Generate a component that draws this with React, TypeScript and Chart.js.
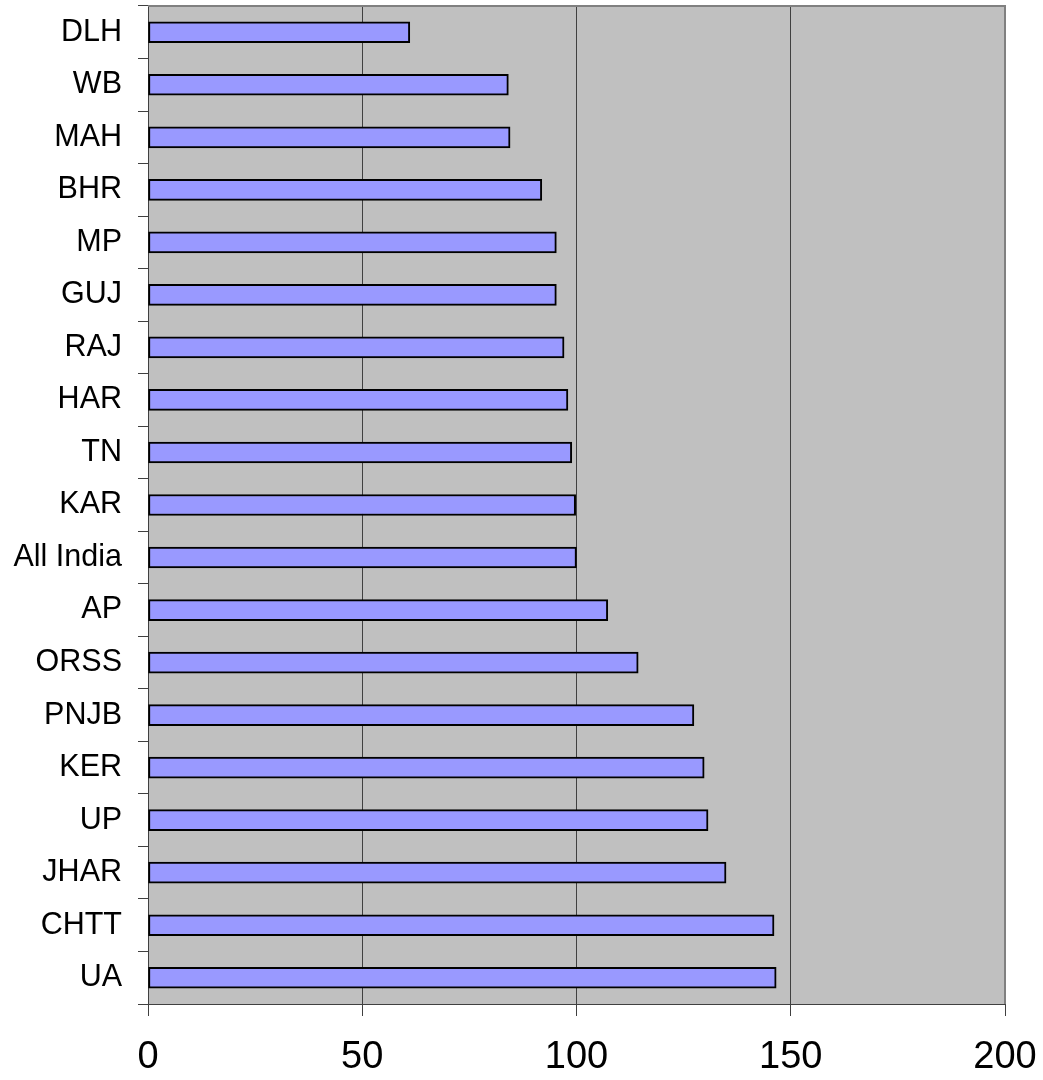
import React, { useEffect, useRef } from "react";
import { Chart, registerables } from "chart.js";

Chart.register(...registerables);

const categories = ["DLH", "WB", "MAH", "BHR", "MP", "GUJ", "RAJ", "HAR", "TN", "KAR", "All India", "AP", "ORSS", "PNJB", "KER", "UP", "JHAR", "CHTT", "UA"];
const values = [61.1, 84.1, 84.5, 91.9, 95.3, 95.3, 97.1, 98.0, 98.9, 99.8, 100, 107.3, 114.4, 127.4, 129.8, 130.7, 134.9, 146.1, 146.6];
const xTicks = [0, 50, 100, 150, 200];

const FONT = "'Liberation Sans', Arial, sans-serif";

const plotBg = {
  id: "plotBg",
  beforeDraw(chart: any) {
    const { ctx, chartArea: a } = chart;
    ctx.save();
    ctx.fillStyle = "#C0C0C0";
    ctx.fillRect(a.left, a.top, a.right - a.left, a.bottom - a.top);
    ctx.restore();
  },
  afterDatasetsDraw(chart: any) {
    const { ctx, chartArea: a } = chart;
    ctx.save();
    ctx.strokeStyle = "#808080";
    ctx.lineWidth = 2;
    ctx.beginPath();
    ctx.moveTo(a.left, a.top);
    ctx.lineTo(a.right, a.top);
    ctx.lineTo(a.right, a.bottom);
    ctx.stroke();
    ctx.restore();
  },
};

const zeroPad = (s: any) => {
  s.paddingLeft = 0;
  s.paddingRight = 0;
  s.paddingTop = 0;
  s.paddingBottom = 0;
};

export default function App() {
  const ref = useRef<HTMLCanvasElement>(null);
  useEffect(() => {
    if (!ref.current) return;
    const chart = new Chart(ref.current, {
      type: "bar",
      data: {
        labels: categories,
        datasets: [
          {
            data: values,
            backgroundColor: "#9999FF",
            borderColor: "#000000",
            borderWidth: 2,
            borderSkipped: false,
            barThickness: 21,
          },
        ],
      },
      options: {
        indexAxis: "y",
        animation: false,
        responsive: false,
        maintainAspectRatio: false,
        layout: { padding: { left: 0, right: 38, top: 6, bottom: 0 } },
        plugins: { legend: { display: false }, tooltip: { enabled: false } },
        scales: {
          x: {
            type: "linear",
            min: 0,
            max: 200,
            afterBuildTicks: (s: any) => {
              s.ticks = xTicks.map((v) => ({ value: v }));
            },
            afterFit: (s: any) => {
              s.height = 76;
              zeroPad(s);
            },
            grid: {
              color: "#404040",
              lineWidth: 1,
              tickLength: 12,
              drawOnChartArea: true,
            },
            border: { display: true, color: "#404040", width: 1 },
            ticks: {
              color: "#000",
              font: { family: FONT, size: 38 },
              padding: 19,
              maxRotation: 0,
            },
          },
          y: {
            afterFit: (s: any) => {
              s.width = 148;
              zeroPad(s);
            },
            grid: {
              offset: true,
              drawOnChartArea: false,
              color: "#404040",
              tickLength: 10,
            },
            border: { display: true, color: "#404040", width: 1 },
            ticks: {
              color: "#000",
              font: { family: FONT, size: 30.5 },
              padding: 16,
              autoSkip: false,
            },
          },
        },
      },
      plugins: [plotBg],
    });
    return () => chart.destroy();
  }, []);
  return (
    <div style={{ position: "absolute", left: 0, top: 0, width: 1043, height: 1080, background: "#fff" }}>
      <canvas ref={ref} width={1043} height={1080} style={{ width: 1043, height: 1080, display: "block" }} />
    </div>
  );
}
